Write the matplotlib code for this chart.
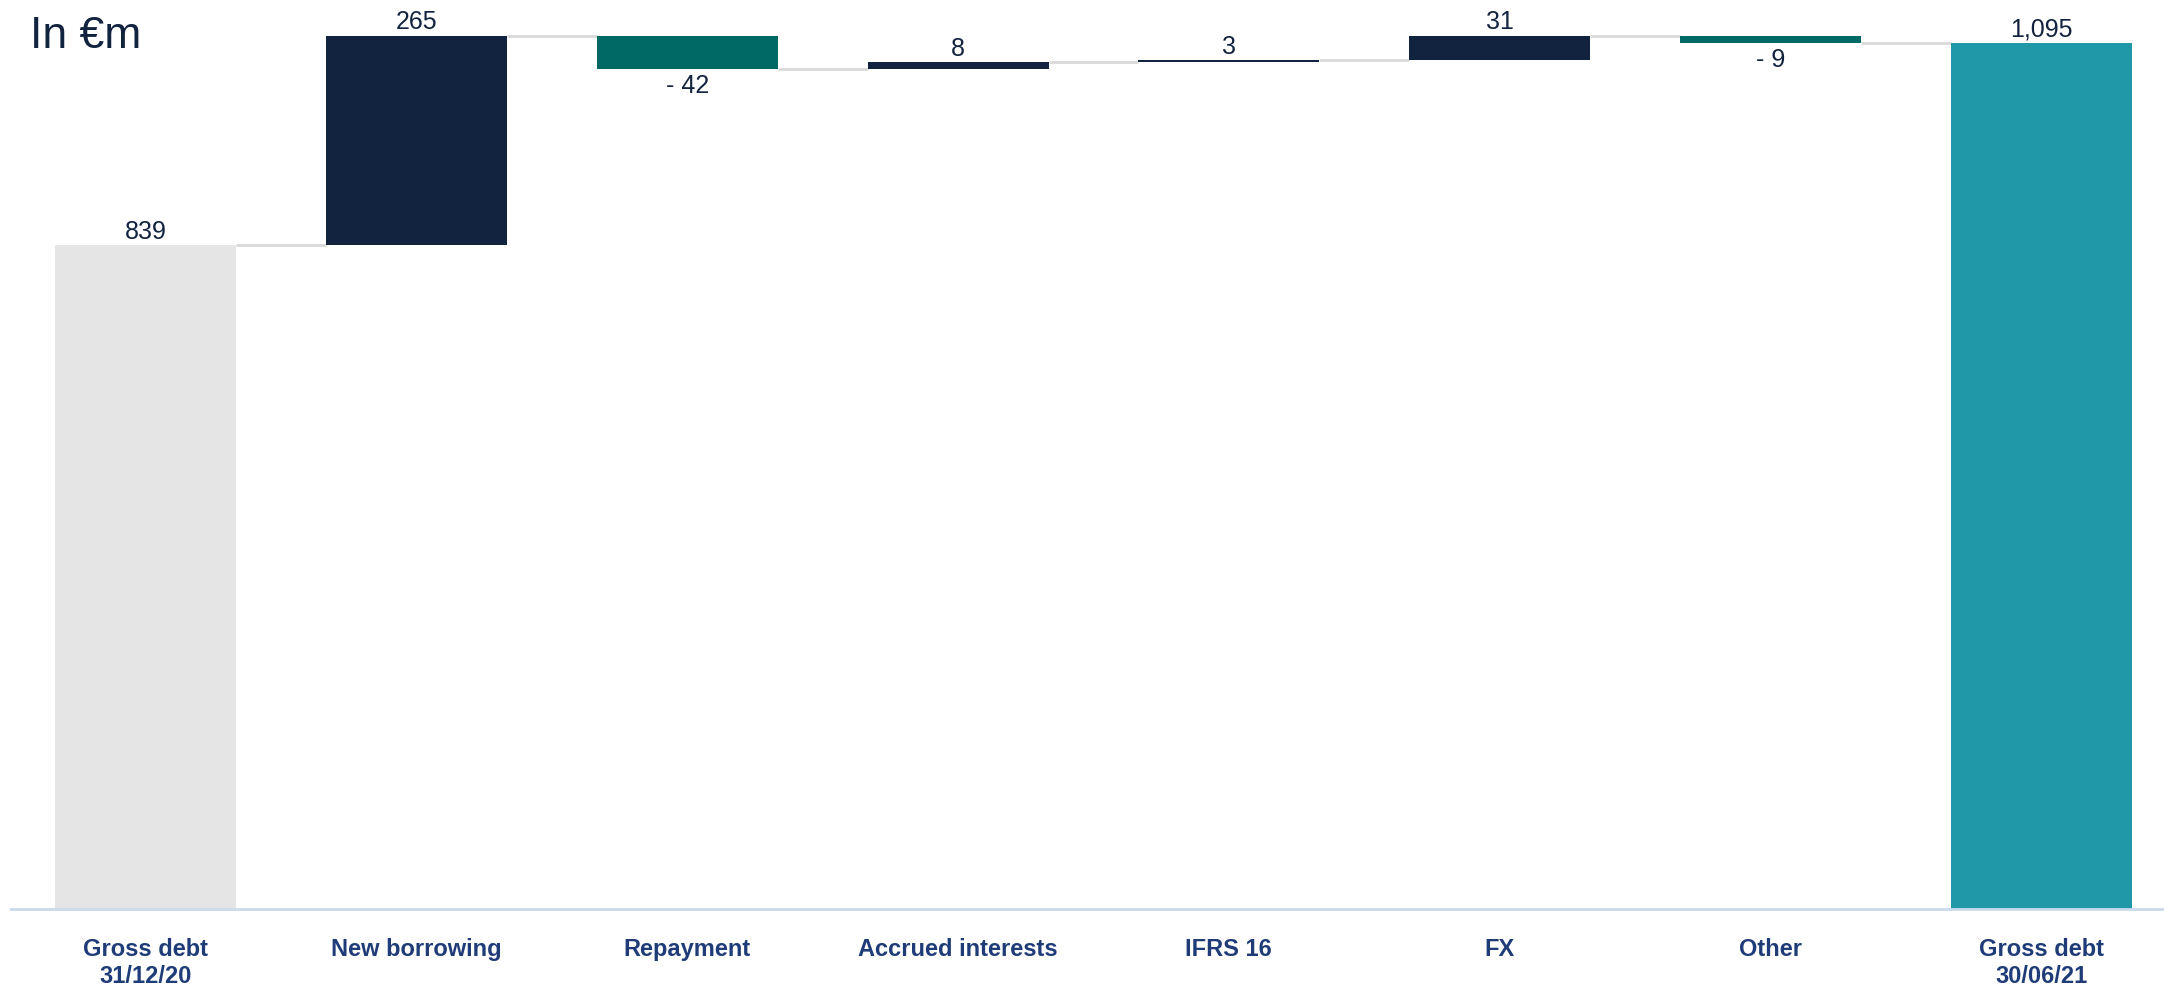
"""
Gross debt bridge: waterfall from 31/12/20 to 30/06/21, in EUR m.
"""
import matplotlib.pyplot as plt
from matplotlib import font_manager

categories = ["Gross debt\n31/12/20", "New borrowing", "Repayment", "Accrued interests",
              "IFRS 16", "FX", "Other", "Gross debt\n30/06/21"]
opening = 839
movements = [265, -42, 8, 3, 31, -9]
closing = 1095

NAVY = "#12233f"
TEAL_DARK = "#006865"
TEAL = "#2098a8"
GREY = "#e5e5e5"
LINK = "#d9d9d9"
LABEL_BLUE = "#1f3c78"

names = {f.name for f in font_manager.fontManager.ttflist}
family = ["Liberation Sans Narrow"] if "Liberation Sans Narrow" in names else ["Liberation Sans"]
plt.rcParams["font.family"] = family + ["DejaVu Sans"]


def fmt(v):
    return f"{v:,}" if v >= 0 else f"- {abs(v):,}"


def value_label(x, y, v, above=True):
    ax.annotate(fmt(v), (x, y), xytext=(0, 1 if above else -4), textcoords="offset points",
                ha="center", va="bottom" if above else "top", fontsize=18, color=NAVY)


fig = plt.figure(figsize=(21.64, 9.92), dpi=100)
ax = fig.add_axes([11 / 2164, 83 / 992, 2153 / 2164, 909 / 992])

width = 0.668
ax.bar(0, opening, width=width, color=GREY)
value_label(0, opening, opening)

running = opening
levels = [opening]
for i, m in enumerate(movements, start=1):
    bottom = min(running, running + m)
    ax.bar(i, abs(m), bottom=bottom, width=width,
           color=NAVY if m > 0 else TEAL_DARK)
    value_label(i, running + m, m, above=m > 0)
    running += m
    levels.append(running)

last = len(categories) - 1
ax.bar(last, closing, width=width, color=TEAL)
value_label(last, closing, closing)

# connector lines between consecutive bars
for i, lvl in enumerate(levels):
    ax.hlines(lvl, i + width / 2, i + 1 - width / 2, color=LINK, lw=2, zorder=0)

ax.set_xlim(-0.497, 7.453)
ax.set_ylim(0, 1149)
for side in ["top", "right", "left"]:
    ax.spines[side].set_visible(False)
ax.spines["bottom"].set_color("#c8dbec")
ax.spines["bottom"].set_linewidth(2)
ax.set_yticks([])
ax.set_xticks(range(len(categories)))
ax.set_xticklabels(categories, fontsize=17, fontweight="bold", color=LABEL_BLUE,
                   linespacing=1.2)
ax.tick_params(axis="x", length=0, pad=21)

fig.text(30 / 2164, 1 - 16 / 992, "In €m", fontsize=32, color=NAVY, ha="left", va="top")

fig.savefig("out.png", dpi=100)
plt.close(fig)
